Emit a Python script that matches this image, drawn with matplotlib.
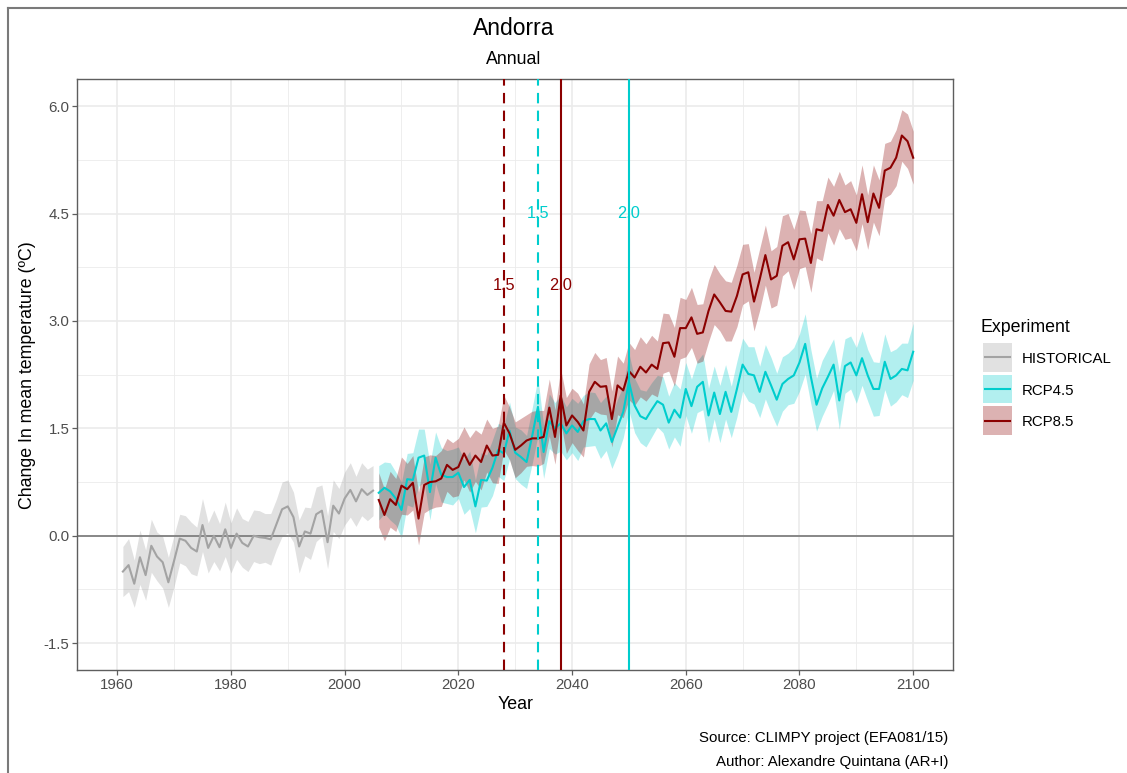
import numpy as np
import matplotlib
matplotlib.use("Agg")
import matplotlib.pyplot as plt
from matplotlib.patches import Rectangle
from matplotlib.lines import Line2D

plt.rcParams["font.family"] = ["Liberation Sans", "DejaVu Sans"]

# ── data ──────────────────────────────────────────────────────────────────────
hist_years = np.arange(1961, 2006)
hist_mean = [-0.50, -0.41, -0.67, -0.30, -0.55, -0.14, -0.29, -0.37, -0.65, -0.35,
             -0.04, -0.07, -0.17, -0.22, 0.15, -0.17, 0.00, -0.16, 0.09, -0.17,
             0.03, -0.10, -0.15, 0.00, -0.02, -0.03, -0.05, 0.16, 0.37, 0.41,
             0.26, -0.15, 0.06, 0.03, 0.30, 0.35, -0.09, 0.42, 0.31, 0.52,
             0.64, 0.48, 0.65, 0.57, 0.63]
hist_spread = [0.35, 0.37, 0.33, 0.38, 0.35, 0.37, 0.34, 0.36, 0.35, 0.36,
               0.34, 0.35, 0.36, 0.34, 0.37, 0.35, 0.36, 0.33, 0.38, 0.35,
               0.36, 0.34, 0.35, 0.36, 0.37, 0.34, 0.36, 0.35, 0.38, 0.37,
               0.35, 0.37, 0.34, 0.36, 0.38, 0.36, 0.37, 0.36, 0.35, 0.37,
               0.38, 0.35, 0.37, 0.36, 0.35]

rcp_years = np.arange(2006, 2101)
rcp45_mean = [0.60, 0.67, 0.62, 0.52, 0.36, 0.79, 0.78, 1.09, 1.12, 0.61,
              1.09, 0.85, 0.82, 0.82, 0.88, 0.68, 0.78, 0.41, 0.78, 0.77,
              0.95, 1.20, 1.15, 1.47, 1.16, 1.10, 1.03, 1.40, 1.80, 1.17,
              1.60, 1.50, 1.57, 1.43, 1.54, 1.45, 1.60, 1.63, 1.63, 1.47,
              1.57, 1.31, 1.52, 1.73, 2.15, 1.82, 1.67, 1.63, 1.76, 1.88,
              1.83, 1.58, 1.76, 1.65, 2.05, 1.81, 2.08, 2.15, 1.68, 2.00,
              1.70, 2.01, 1.73, 2.05, 2.39, 2.26, 2.24, 2.01, 2.29, 2.10,
              1.90, 2.12, 2.19, 2.24, 2.42, 2.68, 2.22, 1.83, 2.06, 2.22,
              2.39, 1.89, 2.37, 2.42, 2.24, 2.48, 2.24, 2.05, 2.05, 2.43,
              2.19, 2.24, 2.33, 2.31, 2.57]
rcp45_spread = [0.38, 0.36, 0.40, 0.37, 0.39, 0.36, 0.38, 0.40, 0.37, 0.39,
                0.36, 0.38, 0.37, 0.39, 0.36, 0.38, 0.40, 0.37, 0.38, 0.36,
                0.39, 0.37, 0.38, 0.40, 0.36, 0.38, 0.37, 0.39, 0.40, 0.37,
                0.38, 0.36, 0.39, 0.37, 0.38, 0.40, 0.36, 0.38, 0.37, 0.39,
                0.38, 0.37, 0.39, 0.36, 0.40, 0.38, 0.37, 0.39, 0.38, 0.36,
                0.39, 0.37, 0.38, 0.40, 0.37, 0.38, 0.36, 0.39, 0.38, 0.37,
                0.40, 0.38, 0.36, 0.39, 0.37, 0.38, 0.40, 0.36, 0.38, 0.39,
                0.37, 0.38, 0.36, 0.39, 0.40, 0.42, 0.38, 0.37, 0.39, 0.38,
                0.36, 0.40, 0.38, 0.37, 0.39, 0.38, 0.36, 0.38, 0.37, 0.39,
                0.38, 0.37, 0.36, 0.38, 0.40]
rcp85_mean = [0.50, 0.29, 0.51, 0.43, 0.70, 0.65, 0.74, 0.24, 0.71, 0.75,
              0.76, 0.80, 0.99, 0.92, 0.96, 1.15, 0.99, 1.12, 1.03, 1.26,
              1.12, 1.13, 1.58, 1.43, 1.20, 1.26, 1.33, 1.36, 1.36, 1.38,
              1.79, 1.38, 1.96, 1.54, 1.68, 1.59, 1.47, 2.01, 2.15, 2.08,
              2.09, 1.63, 2.10, 2.03, 2.30, 2.21, 2.36, 2.28, 2.39, 2.33,
              2.69, 2.70, 2.50, 2.90, 2.90, 3.05, 2.82, 2.84, 3.14, 3.37,
              3.26, 3.14, 3.13, 3.35, 3.65, 3.68, 3.27, 3.58, 3.92, 3.58,
              3.63, 4.05, 4.10, 3.86, 4.14, 4.15, 3.81, 4.28, 4.26, 4.62,
              4.47, 4.69, 4.52, 4.56, 4.37, 4.77, 4.38, 4.78, 4.58, 5.10,
              5.14, 5.28, 5.59, 5.51, 5.28]
rcp85_spread = [0.38, 0.36, 0.39, 0.37, 0.40, 0.36, 0.38, 0.37, 0.39, 0.38,
                0.36, 0.39, 0.37, 0.38, 0.40, 0.37, 0.38, 0.36, 0.39, 0.37,
                0.38, 0.40, 0.38, 0.37, 0.39, 0.38, 0.36, 0.38, 0.39, 0.37,
                0.40, 0.38, 0.37, 0.39, 0.38, 0.40, 0.37, 0.39, 0.41, 0.38,
                0.40, 0.39, 0.41, 0.38, 0.40, 0.39, 0.42, 0.40, 0.41, 0.39,
                0.42, 0.40, 0.41, 0.43, 0.40, 0.42, 0.41, 0.40, 0.43, 0.42,
                0.40, 0.42, 0.41, 0.43, 0.42, 0.40, 0.41, 0.43, 0.42, 0.40,
                0.41, 0.42, 0.40, 0.42, 0.41, 0.39, 0.41, 0.40, 0.42, 0.39,
                0.41, 0.40, 0.38, 0.40, 0.39, 0.41, 0.38, 0.40, 0.39, 0.38,
                0.37, 0.39, 0.36, 0.38, 0.37]

experiments = ["HISTORICAL", "RCP4.5", "RCP8.5"]

# years at which each scenario crosses +1.5 and +2.0 degrees
thresh_labels = ["1.5", "2.0"]
cross_45 = [2034, 2050]
cross_85 = [2028, 2038]
label_y_45 = 4.5
label_y_85 = 3.5

COL_HIST = "#a3a3a3"
COL_45 = "#00cdcd"
COL_85 = "#8b0000"
FILL_HIST = "#8c8c8c"
W, H = 1127, 773


def fx(px):
    return px / W


def fy(py):
    return 1 - py / H


fig = plt.figure(figsize=(W / 100, H / 100), dpi=100)
ax = fig.add_axes([fx(77.4), fy(670), (953 - 77.4) / W, (670 - 79.3) / H])

# ── ribbons + lines ───────────────────────────────────────────────────────────
series = [
    (hist_years, hist_mean, hist_spread, COL_HIST, FILL_HIST, 0.26),
    (rcp_years, rcp45_mean, rcp45_spread, COL_45, COL_45, 0.3),
    (rcp_years, rcp85_mean, rcp85_spread, COL_85, COL_85, 0.3),
]
for x, m, s, lc, fc, a in series:
    m, s = np.asarray(m), np.asarray(s)
    ax.fill_between(x, m - s, m + s, color=fc, alpha=a, lw=0, zorder=2)
for x, m, s, lc, fc, a in series:
    ax.plot(x, m, color=lc, lw=1.5, zorder=3)

ax.axhline(0, color="#808080", lw=1.3, zorder=2.5)

# ── threshold crossings ───────────────────────────────────────────────────────
for yrs, col, ly in [(cross_85, COL_85, label_y_85), (cross_45, COL_45, label_y_45)]:
    for yr, lab, ls in zip(yrs, thresh_labels, [(0, (5, 3.5)), "-"]):
        ax.text(yr, ly, lab, color=col, fontsize=11.8, ha="center", va="center",
                zorder=4)
        ax.axvline(yr, color=col, lw=1.5, ls=ls, zorder=5)

# ── axes styling (theme_bw-like) ──────────────────────────────────────────────
ax.set_xlim(1953, 2107)
ax.set_ylim(-1.875, 6.375)
ax.set_xticks(np.arange(1960, 2101, 20))
ax.set_xticks(np.arange(1970, 2100, 20), minor=True)
ax.set_yticks(np.arange(-1.5, 6.01, 1.5))
ax.set_yticks(np.arange(-0.75, 6.3, 1.5), minor=True)
ax.set_yticklabels([f"{v:.1f}" for v in np.arange(-1.5, 6.01, 1.5)])
ax.grid(which="major", color="#ebebeb", lw=1.2, zorder=0)
ax.grid(which="minor", color="#ebebeb", lw=0.6, zorder=0)
ax.set_axisbelow(True)
for sp in ax.spines.values():
    sp.set_color("#5e5e5e")
    sp.set_linewidth(1.0)
ax.tick_params(which="major", length=3.6, width=0.9, color="#5e5e5e",
               labelcolor="#4d4d4d", labelsize=10.8, pad=2)
ax.tick_params(which="minor", length=0)

ax.set_xlabel("Year", fontsize=12.8, labelpad=3)
ax.set_ylabel("Change In mean temperature (ºC)", fontsize=12.8, labelpad=6)

fig.text(fx(514), fy(35), "Andorra", ha="center", va="baseline", fontsize=16.5)
fig.text(fx(514), fy(64), "Annual", ha="center", va="baseline", fontsize=12.8)

fig.text(fx(948), fy(742), "Source: CLIMPY project (EFA081/15)",
         ha="right", va="baseline", fontsize=10.8)
fig.text(fx(948), fy(766), "Author: Alexandre Quintana (AR+I)",
         ha="right", va="baseline", fontsize=10.8)

# ── legend (ggplot-style keys: ribbon fill with line across) ──────────────────
fig.text(fx(981), fy(332), "Experiment", ha="left", va="baseline", fontsize=12.8)
key_top = [343, 374.5, 406]
for (x, m, s, lc, fc, a), name, top in zip(series, experiments, key_top):
    fig.add_artist(Rectangle((fx(983), fy(top + 29)), 29 / W, 29 / H,
                             facecolor=fc, alpha=a, edgecolor="none",
                             transform=fig.transFigure))
    fig.add_artist(Line2D([fx(985), fx(1010)], [fy(top + 14.5)] * 2,
                          color=lc, lw=1.5))
    fig.text(fx(1022), fy(top + 14.5), name, ha="left", va="center_baseline",
             fontsize=10.8)

# outer frame of the original export
fig.add_artist(Line2D([fx(8), fx(8)], [0, fy(8)], color="#7a7a7a", lw=1.5))
fig.add_artist(Line2D([fx(8), 1], [fy(8), fy(8)], color="#7a7a7a", lw=1.5))

fig.savefig("out.png", dpi=100)
